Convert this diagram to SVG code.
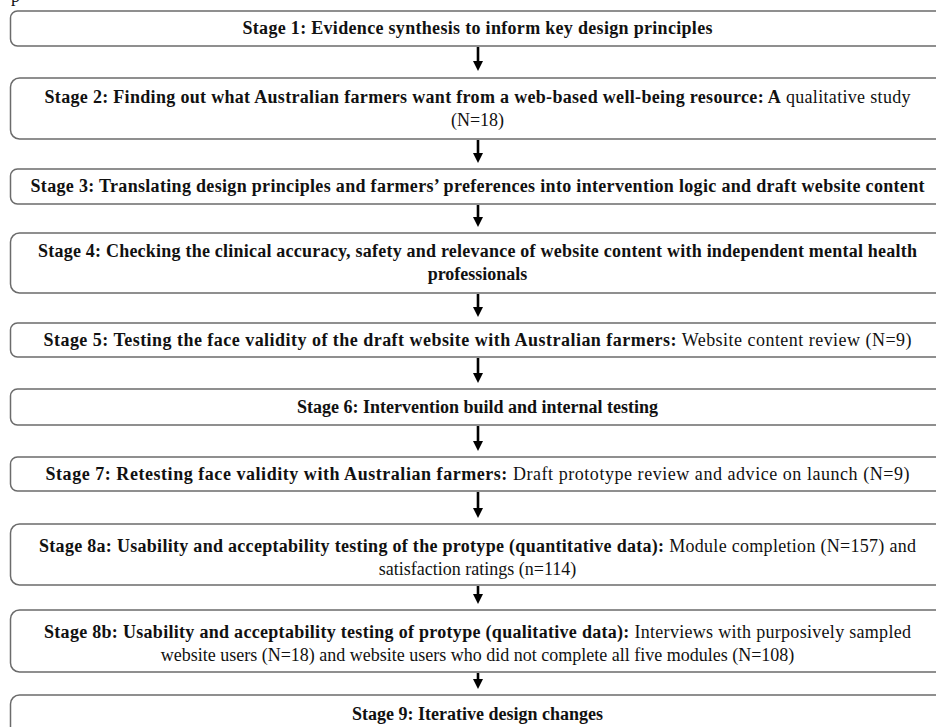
<svg xmlns="http://www.w3.org/2000/svg" width="936" height="727" viewBox="0 0 936 727">
<style>
  .box { fill: #ffffff; stroke: #6b6b6b; stroke-width: 1.5; }
  .t { font-family: "Liberation Serif", "Times New Roman", serif; font-size: 18px; fill: #111111; text-anchor: middle; }
  .b { font-weight: bold; }
  .n { font-weight: normal; }
  .arr { stroke: #000000; stroke-width: 2.6; fill: none; marker-end: url(#ah); }
</style>
<defs>
  <marker id="ah" markerUnits="userSpaceOnUse" markerWidth="10" markerHeight="10" viewBox="0 0 10 10" refX="1" refY="5" orient="auto">
    <path d="M0,0 L10,5 L0,10 Z" fill="#000000"/>
  </marker>
</defs>
<rect width="936" height="727" fill="#ffffff"/>
<text class="t n" x="11" y="2" style="text-anchor:start">p</text>

<g id="connectors">
  <line class="arr" x1="478" y1="47" x2="478" y2="62"/>
  <line class="arr" x1="478" y1="140" x2="478" y2="154"/>
  <line class="arr" x1="478" y1="205" x2="478" y2="218"/>
  <line class="arr" x1="478" y1="294" x2="478" y2="308"/>
  <line class="arr" x1="478" y1="358" x2="478" y2="374"/>
  <line class="arr" x1="478" y1="426" x2="478" y2="442"/>
  <line class="arr" x1="478" y1="492" x2="478" y2="509"/>
  <line class="arr" x1="478" y1="586" x2="478" y2="595"/>
  <line class="arr" x1="478" y1="673" x2="478" y2="680"/>
</g>

<g id="stage1">
  <rect class="box" x="10.5" y="11" width="970" height="35" rx="7"/>
  <text class="t b" x="477.5" y="34" textLength="470" lengthAdjust="spacing">Stage 1: Evidence synthesis to inform key design principles</text>
</g>
<g id="stage2">
  <rect class="box" x="10.5" y="78" width="970" height="61" rx="9"/>
  <text class="t" x="477.5" y="103" textLength="866" lengthAdjust="spacing"><tspan class="b">Stage 2: Finding out what Australian farmers want from a web-based well-being resource: A</tspan><tspan class="n"> qualitative study</tspan></text>
  <text class="t n" x="477.5" y="126">(N=18)</text>
</g>
<g id="stage3">
  <rect class="box" x="10.5" y="169" width="970" height="35" rx="7"/>
  <text class="t b" x="477.5" y="192" textLength="894" lengthAdjust="spacing">Stage 3: Translating design principles and farmers’ preferences into intervention logic and draft website content</text>
</g>
<g id="stage4">
  <rect class="box" x="10.5" y="233" width="970" height="60" rx="9"/>
  <text class="t b" x="477.5" y="257" textLength="879" lengthAdjust="spacing">Stage 4: Checking the clinical accuracy, safety and relevance of website content with independent mental health</text>
  <text class="t b" x="477.5" y="280">professionals</text>
</g>
<g id="stage5">
  <rect class="box" x="10.5" y="323" width="970" height="34" rx="7"/>
  <text class="t" x="477.5" y="346" textLength="868" lengthAdjust="spacing"><tspan class="b">Stage 5: Testing the face validity of the draft website with Australian farmers:</tspan><tspan class="n"> Website content review (N=9)</tspan></text>
</g>
<g id="stage6">
  <rect class="box" x="10.5" y="389" width="970" height="36" rx="7"/>
  <text class="t b" x="477.5" y="413">Stage 6: Intervention build and internal testing</text>
</g>
<g id="stage7">
  <rect class="box" x="10.5" y="457" width="970" height="34" rx="7"/>
  <text class="t" x="477.5" y="480" textLength="864" lengthAdjust="spacing"><tspan class="b">Stage 7: Retesting face validity with Australian farmers:</tspan><tspan class="n"> Draft prototype review and advice on launch (N=9)</tspan></text>
</g>
<g id="stage8a">
  <rect class="box" x="10.5" y="524" width="970" height="61" rx="9"/>
  <text class="t" x="477.5" y="552" textLength="877" lengthAdjust="spacing"><tspan class="b">Stage 8a: Usability and acceptability testing of the protype (quantitative data):</tspan><tspan class="n"> Module completion (N=157) and</tspan></text>
  <text class="t n" x="477.5" y="575">satisfaction ratings (n=114)</text>
</g>
<g id="stage8b">
  <rect class="box" x="10.5" y="610" width="970" height="62" rx="9"/>
  <text class="t" x="477.5" y="638" textLength="867" lengthAdjust="spacing"><tspan class="b">Stage 8b: Usability and acceptability testing of protype (qualitative data):</tspan><tspan class="n"> Interviews with purposively sampled</tspan></text>
  <text class="t n" x="477.5" y="661">website users (N=18) and website users who did not complete all five modules (N=108)</text>
</g>
<g id="stage9">
  <rect class="box" x="10.5" y="695" width="970" height="60" rx="9"/>
  <text class="t b" x="477.5" y="720">Stage 9: Iterative design changes</text>
</g>
</svg>
